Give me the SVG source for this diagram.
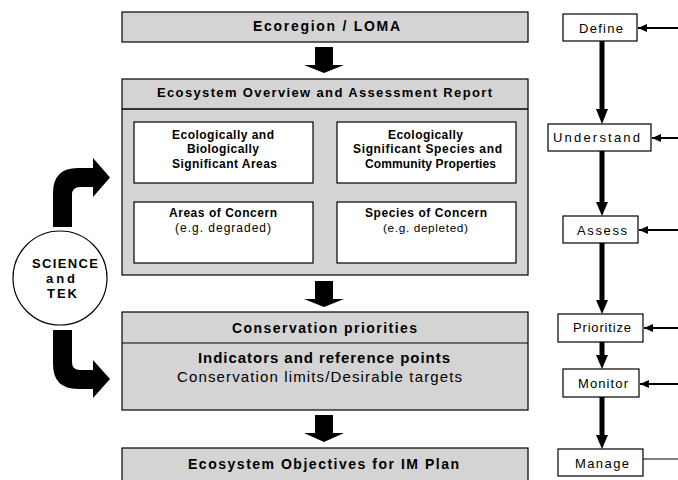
<svg xmlns="http://www.w3.org/2000/svg" width="678" height="480" viewBox="0 0 678 480">
<style>
.g{fill:#d4d4d4;stroke:#000;stroke-width:1.2}
.w{fill:#fff;stroke:#000;stroke-width:1.2}
.t{font-family:"Liberation Sans",Arial,sans-serif;fill:#000}
.b{font-weight:bold}
.blk{fill:#000;stroke:none}
.hl{stroke:#000;stroke-width:2;fill:none}
.vl{stroke:#000;stroke-width:5;fill:none}
</style>
<defs>
<marker id="ah" markerWidth="9" markerHeight="8" refX="9" refY="4" orient="auto" markerUnits="userSpaceOnUse">
<path d="M0,0 L9,4 L0,8 Z" fill="#000"/>
</marker>
</defs>
<rect width="678" height="480" fill="#fff"/>

<g id="ecoregion">
<rect class="g" x="122" y="12" width="406" height="30"/>
<text class="t b" x="253" y="31" font-size="14" textLength="147" lengthAdjust="spacing">Ecoregion / LOMA</text>
</g>

<g id="overview">
<rect class="g" x="122" y="79" width="406" height="196" stroke-width="2.5"/>
<line x1="122" y1="109" x2="528" y2="109" stroke="#000" stroke-width="1.5"/>
<text class="t b" x="157" y="97" font-size="13" textLength="335" lengthAdjust="spacing">Ecosystem Overview and Assessment Report</text>
</g>

<g id="ebsa">
<rect class="w" x="134" y="122" width="179" height="61"/>
<text class="t b" font-size="12"><tspan x="172" y="139" textLength="102" lengthAdjust="spacing">Ecologically and</tspan><tspan x="187" y="153" textLength="72" lengthAdjust="spacing">Biologically</tspan><tspan x="172" y="168" textLength="105" lengthAdjust="spacing">Significant Areas</tspan></text>
</g>

<g id="esscp">
<rect class="w" x="337" y="122" width="179" height="61"/>
<text class="t b" font-size="12"><tspan x="388" y="139" textLength="75" lengthAdjust="spacing">Ecologically</tspan><tspan x="353" y="153" textLength="149" lengthAdjust="spacing">Significant Species and</tspan><tspan x="365" y="168" textLength="131" lengthAdjust="spacing">Community Properties</tspan></text>
</g>

<g id="areas-concern">
<rect class="w" x="134" y="202" width="179" height="61"/>
<text class="t b" x="169" y="217" font-size="12" textLength="108" lengthAdjust="spacing">Areas of Concern</text>
<text class="t" x="175" y="232" font-size="12" textLength="96" lengthAdjust="spacing">(e.g. degraded)</text>
</g>

<g id="species-concern">
<rect class="w" x="337" y="202" width="179" height="61"/>
<text class="t b" x="365" y="217" font-size="12" textLength="122" lengthAdjust="spacing">Species of Concern</text>
<text class="t" x="383" y="232" font-size="11.8" textLength="85" lengthAdjust="spacing">(e.g. depleted)</text>
</g>

<g id="science">
<circle cx="60" cy="278" r="47" fill="#fff" stroke="#000" stroke-width="1.2"/>
<text class="t b" font-size="13"><tspan x="32" y="268" textLength="66" lengthAdjust="spacing">SCIENCE</tspan><tspan x="46" y="283" textLength="29" lengthAdjust="spacing">and</tspan><tspan x="47" y="298" textLength="30" lengthAdjust="spacing">TEK</tspan></text>
</g>

<g id="conservation">
<rect class="g" x="122" y="312" width="406" height="98"/>
<line x1="122" y1="343" x2="528" y2="343" stroke="#000" stroke-width="1.2"/>
<text class="t b" x="232" y="333" font-size="14" textLength="185" lengthAdjust="spacing">Conservation priorities</text>
<text class="t b" x="198" y="363" font-size="15" textLength="252" lengthAdjust="spacing">Indicators and reference points</text>
<text class="t" x="177" y="382" font-size="15" textLength="285" lengthAdjust="spacing">Conservation limits/Desirable targets</text>
</g>

<g id="objectives">
<rect class="g" x="122" y="448" width="406" height="40"/>
<text class="t b" x="188" y="469" font-size="14" textLength="271" lengthAdjust="spacing">Ecosystem Objectives for IM Plan</text>
</g>

<g id="define">
<rect class="w" x="563" y="14" width="74" height="27"/>
<text class="t" x="579" y="33" font-size="13" textLength="44" lengthAdjust="spacing">Define</text>
</g>
<g id="understand">
<rect class="w" x="548" y="124" width="103" height="27"/>
<text class="t" x="553" y="142" font-size="13" textLength="87" lengthAdjust="spacing">Understand</text>
</g>
<g id="assess">
<rect class="w" x="563" y="216" width="75" height="27"/>
<text class="t" x="577" y="235" font-size="13" textLength="50" lengthAdjust="spacing">Assess</text>
</g>
<g id="prioritize">
<rect class="w" x="558" y="314" width="85" height="28"/>
<text class="t" x="573" y="332" font-size="13" textLength="58" lengthAdjust="spacing">Prioritize</text>
</g>
<g id="monitor">
<rect class="w" x="563" y="369" width="76" height="28"/>
<text class="t" x="578" y="388" font-size="13" textLength="50" lengthAdjust="spacing">Monitor</text>
</g>
<g id="manage">
<rect class="w" x="558" y="449" width="85" height="27"/>
<text class="t" x="575" y="468" font-size="13" textLength="54" lengthAdjust="spacing">Manage</text>
</g>

<g id="connectors">
<polygon class="blk" points="315,47 333,47 333,65 344,65 324,73 304,65 315,65"/>
<polygon class="blk" points="315,281 333,281 333,299 344,299 324,307 304,299 315,299"/>
<polygon class="blk" points="315,415 333,415 333,433 344,433 324,442 304,433 315,433"/>
<path class="blk" d="M53,227 L53,193 Q53,168 78,168 L93,168 L93,158 L110,177.5 L93,197 L93,187 L80,187 Q72,187 72,195 L72,227 Z"/>
<path class="blk" d="M53,330 L72,330 L72,362 Q72,370 80,370 L93,370 L93,360 L110,379 L93,398 L93,389 L78,389 Q53,389 53,364 Z"/>
<line class="vl" x1="602" y1="41" x2="602" y2="110"/>
<polygon class="blk" points="596,109 608,109 602,124"/>
<line class="vl" x1="602" y1="151" x2="602" y2="203"/>
<polygon class="blk" points="596,202 608,202 602,216"/>
<line class="vl" x1="602" y1="243" x2="602" y2="301"/>
<polygon class="blk" points="596,300 608,300 602,314"/>
<line class="vl" x1="602" y1="342" x2="602" y2="356"/>
<polygon class="blk" points="596,355 608,355 602,369"/>
<line class="vl" x1="602" y1="397" x2="602" y2="436"/>
<polygon class="blk" points="596,435 608,435 602,449"/>
<line class="hl" x1="678" y1="28" x2="638" y2="28" marker-end="url(#ah)"/>
<line class="hl" x1="678" y1="138" x2="652" y2="138" marker-end="url(#ah)"/>
<line class="hl" x1="678" y1="230" x2="639" y2="230" marker-end="url(#ah)"/>
<line class="hl" x1="678" y1="328" x2="644" y2="328" marker-end="url(#ah)"/>
<line class="hl" x1="678" y1="384" x2="640" y2="384" marker-end="url(#ah)"/>
<line x1="643" y1="459" x2="678" y2="459" stroke="#000" stroke-width="1"/>
</g>
</svg>
